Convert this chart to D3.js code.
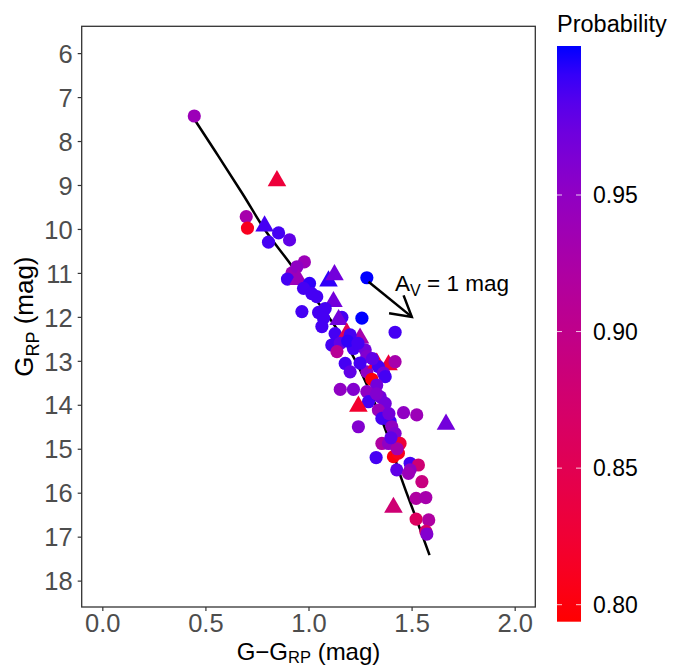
<!DOCTYPE html>
<html>
<head>
<meta charset="utf-8">
<script src="https://cdn.jsdelivr.net/npm/d3@7"></script>
<style>
  body { margin: 0; background: #fff; }
  svg { display: block; font-family: "Liberation Sans", Arial, sans-serif; }
</style>
</head>
<body>
<svg id="chart" width="673" height="667"></svg>
<script>
// ---- data ----
const colour = [0.446,0.847,0.698,0.704,0.787,0.855,0.806,0.908,0.980,0.920,0.944,0.898,0.952,1.005,1.097,1.126,1.283,0.976,1.040,1.016,1.121,0.968,1.049,1.081,1.162,1.146,1.259,1.420,1.073,1.065,1.129,1.186,1.250,1.202,1.113,1.154,1.218,1.275,1.138,1.283,1.178,1.202,1.283,1.331,1.388,1.420,1.339,1.364,1.372,1.307,1.331,1.154,1.218,1.283,1.348,1.291,1.242,1.372,1.339,1.461,1.525,1.667,1.356,1.396,1.242,1.404,1.420,1.356,1.388,1.444,1.328,1.412,1.436,1.493,1.533,1.428,1.493,1.550,1.485,1.522,1.569,1.412,1.522,1.583,1.569,1.574,1.190,1.240,1.310,1.250,1.330,1.390,1.430,1.400];
const mag = [7.43,8.87,9.72,9.98,9.90,10.09,10.30,10.25,10.75,11.00,10.86,11.14,11.12,11.24,11.15,11.01,11.11,11.35,11.54,11.47,11.62,11.88,11.90,11.81,12.01,12.03,12.03,12.35,12.03,12.22,12.38,12.34,12.45,12.41,12.64,12.60,12.72,12.75,12.79,12.90,13.06,13.25,13.25,13.02,13.06,13.02,13.13,13.28,13.36,13.42,13.55,13.65,13.65,13.70,13.82,13.93,14.00,13.97,14.12,14.18,14.23,14.41,14.31,14.38,14.50,14.50,14.65,14.88,14.88,14.88,15.20,15.18,15.10,15.33,15.37,15.48,15.48,15.75,15.56,16.13,16.11,16.30,16.60,16.62,16.88,16.94,12.55,12.60,12.95,13.05,13.75,14.20,15.00,14.75];
const prob = [0.94,0.83,0.93,0.81,0.99,0.99,0.99,0.98,0.94,0.94,0.95,0.99,0.94,0.995,0.995,0.97,1.0,0.99,0.99,0.99,0.97,0.99,0.99,0.99,0.99,0.97,1.0,0.99,0.99,0.99,0.99,0.85,0.93,0.99,0.99,0.98,0.99,0.97,0.91,0.96,0.99,0.98,0.95,0.82,0.83,0.93,0.99,0.97,0.99,0.80,0.97,0.95,0.96,0.95,0.97,0.99,0.82,0.97,0.94,0.95,0.94,0.97,0.99,0.99,0.96,0.95,0.96,0.92,0.95,0.83,0.99,0.80,0.81,0.99,0.88,0.98,0.95,0.89,0.94,0.92,0.93,0.88,0.86,0.92,0.87,0.96,0.995,0.99,0.98,0.99,0.96,0.97,0.93,0.98];
const shape = ["c","t","c","c","t","c","c","c","c","c","c","c","t","c","t","t","c","c","c","c","t","c","c","c","c","t","c","c","c","c","c","t","t","c","c","c","c","c","c","c","c","c","c","t","t","c","c","c","c","c","c","c","c","c","c","c","t","c","c","c","c","t","c","c","c","c","c","c","c","c","c","c","c","c","c","c","c","c","c","c","c","t","c","c","c","c","c","c","c","c","c","c","c","c"];

// isochrone curve
const isoColour = [0.425,0.55,0.68,0.79,0.90,0.99,1.06,1.12,1.20,1.25,1.315,1.38,1.453,1.525,1.587];
const isoMag    = [7.35,8.25,9.20,10.03,10.72,11.31,11.76,12.15,12.75,13.21,13.89,14.65,15.71,16.62,17.42];

// extinction arrow
const arrowFrom = [1.291, 11.20];
const arrowTo   = [1.501, 12.00];

const xTicks = [0.0, 0.5, 1.0, 1.5, 2.0];
const yTicks = [6,7,8,9,10,11,12,13,14,15,16,17,18];
const probTicks = [0.80, 0.85, 0.90, 0.95];

// ---- layout ----
const svg = d3.select("#chart");
const P = {left: 81.7, right: 535.3, top: 26.3, bottom: 607};

const x = d3.scaleLinear().domain([-0.1, 2.1]).range([P.left, P.right]);
const y = d3.scaleLinear().domain([5.39, 18.6]).range([P.top, P.bottom]);
const col = d3.scaleLinear().domain([0.797, 1.0]).range(["#FF0000", "#0000FF"])
  .interpolate(d3.interpolateLab).clamp(true);

// panel background
svg.append("rect").attr("x", P.left).attr("y", P.top)
  .attr("width", P.right - P.left).attr("height", P.bottom - P.top)
  .attr("fill", "#fff");

// isochrone
const line = d3.line().x(d => x(d[0])).y(d => y(d[1])).curve(d3.curveMonotoneX);
svg.append("path").datum(d3.zip(isoColour, isoMag))
  .attr("d", line).attr("fill", "none").attr("stroke", "#000").attr("stroke-width", 2.5);

// points
const pts = d3.range(colour.length).map(i => ({x: colour[i], y: mag[i], p: prob[i], s: shape[i]}));
const tri = d3.symbol().type(d3.symbolTriangle).size(150);
const g = svg.append("g");
pts.forEach(d => {
  if (d.s === "c") {
    g.append("circle").attr("cx", x(d.x)).attr("cy", y(d.y)).attr("r", 6.6)
      .attr("fill", col(d.p));
  } else {
    g.append("path").attr("d", tri())
      .attr("transform", `translate(${x(d.x)},${y(d.y) + 1.5})`)
      .attr("fill", col(d.p));
  }
});

// arrow
const ax0 = x(arrowFrom[0]), ay0 = y(arrowFrom[1]);
const ax1 = x(arrowTo[0]), ay1 = y(arrowTo[1]);
svg.append("line").attr("x1", ax0).attr("y1", ay0).attr("x2", ax1).attr("y2", ay1)
  .attr("stroke", "#000").attr("stroke-width", 2.5);
const ang = Math.atan2(ay1 - ay0, ax1 - ax0);
const hl = 23, ha = Math.PI / 6;
const head = [
  [ax1 - hl * Math.cos(ang - ha), ay1 - hl * Math.sin(ang - ha)],
  [ax1, ay1],
  [ax1 - hl * Math.cos(ang + ha), ay1 - hl * Math.sin(ang + ha)]
];
svg.append("path").attr("d", d3.line()(head)).attr("fill", "none")
  .attr("stroke", "#000").attr("stroke-width", 2.5).attr("stroke-linejoin", "miter");

const ann = svg.append("text").attr("x", x(1.42)).attr("y", y(11.3) + 5)
  .attr("font-size", 22.5).attr("fill", "#000");
ann.append("tspan").text("A");
ann.append("tspan").attr("dy", 5).attr("font-size", 16).text("V");
ann.append("tspan").attr("dy", -5).text(" = 1 mag");

// panel border
svg.append("rect").attr("x", P.left).attr("y", P.top)
  .attr("width", P.right - P.left).attr("height", P.bottom - P.top)
  .attr("fill", "none").attr("stroke", "#333").attr("stroke-width", 1.3);

// axes
const xAxis = svg.append("g").attr("transform", `translate(0,${P.bottom})`)
  .call(d3.axisBottom(x).tickValues(xTicks).tickFormat(d3.format(".1f")).tickSize(4).tickPadding(3));
const yAxis = svg.append("g").attr("transform", `translate(${P.left},0)`)
  .call(d3.axisLeft(y).tickValues(yTicks).tickSize(4).tickPadding(5));
[xAxis, yAxis].forEach(a => {
  a.select(".domain").remove();
  a.selectAll(".tick line").attr("stroke", "#333").attr("stroke-width", 1.2);
  a.selectAll(".tick text").attr("fill", "#4D4D4D").attr("font-size", 25.5)
    .attr("font-family", "Liberation Sans, Arial, sans-serif");
});
yAxis.selectAll(".tick text").attr("dy", "0.36em");

// axis titles
const xt = svg.append("text").attr("x", (P.left + P.right) / 2).attr("y", 659.5)
  .attr("text-anchor", "middle").attr("font-size", 24).attr("fill", "#000");
xt.append("tspan").text("G\u2212G");
xt.append("tspan").attr("dy", 3.5).attr("font-size", 16.5).text("RP");
xt.append("tspan").attr("dy", -3.5).text(" (mag)");

const yt = svg.append("text")
  .attr("transform", `translate(33,${(P.top + P.bottom) / 2}) rotate(-90)`)
  .attr("text-anchor", "middle").attr("font-size", 26).attr("fill", "#000");
yt.append("tspan").text("G");
yt.append("tspan").attr("dy", 6).attr("font-size", 18).text("RP");
yt.append("tspan").attr("dy", -6).text(" (mag)");

// colour bar legend
const L = {x: 557, w: 24, top: 46, bottom: 621.7};
const ly = d3.scaleLinear().domain([0.80, 0.95]).range([604.7, 195]);
const vTop = ly.invert(L.top), vBot = ly.invert(L.bottom);
const defs = svg.append("defs");
const grad = defs.append("linearGradient").attr("id", "pg")
  .attr("x1", 0).attr("y1", 1).attr("x2", 0).attr("y2", 0);
d3.range(0, 21).forEach(i => {
  const t = i / 20;
  const v = vBot + t * (vTop - vBot);
  grad.append("stop").attr("offset", t).attr("stop-color", col(v));
});
svg.append("rect").attr("x", L.x).attr("y", L.top).attr("width", L.w)
  .attr("height", L.bottom - L.top).attr("fill", "url(#pg)");
probTicks.forEach(v => {
  const yy = ly(v);
  svg.append("line").attr("x1", L.x).attr("x2", L.x + 5).attr("y1", yy).attr("y2", yy)
    .attr("stroke", "#fff").attr("stroke-width", 1).attr("opacity", 0.8);
  svg.append("line").attr("x1", L.x + L.w - 5).attr("x2", L.x + L.w).attr("y1", yy).attr("y2", yy)
    .attr("stroke", "#fff").attr("stroke-width", 1).attr("opacity", 0.8);
  svg.append("text").attr("x", 593).attr("y", yy).attr("dy", "0.36em")
    .attr("font-size", 23).attr("fill", "#000").text(d3.format(".2f")(v));
});
svg.append("text").attr("x", 557).attr("y", 32).attr("font-size", 23.5)
  .attr("fill", "#000").text("Probability");
</script>
</body>
</html>
